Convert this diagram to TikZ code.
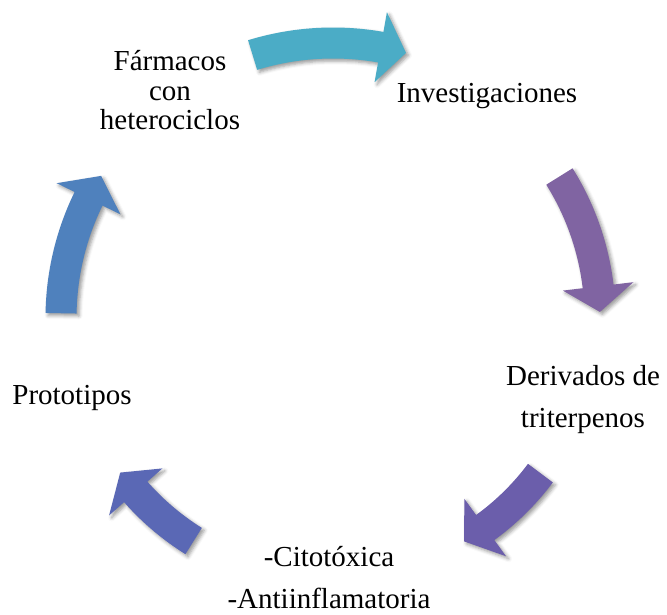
\documentclass[tikz,border=0pt]{standalone}
\usepackage{fontspec}
\setmainfont{Liberation Serif}
\usetikzlibrary{shadows.blur}
\definecolor{arrA}{RGB}{75,172,198}
\definecolor{arrB}{RGB}{128,100,162}
\definecolor{arrC}{RGB}{107,94,171}
\definecolor{arrD}{RGB}{90,104,181}
\definecolor{arrE}{RGB}{79,129,189}
\tikzset{
  lbl/.style={inner sep=0pt, align=center, anchor=base, text=black},
  tight/.style={font=\fontsize{29}{29.5}\selectfont},
  loose/.style={font=\fontsize{29}{42}\selectfont},
  blockarrow/.style={draw=none, blur shadow={shadow xshift=2.5pt, shadow yshift=-2.5pt, shadow blur radius=3.5pt, shadow opacity=40}}
}
% #1 colour, #2 radius, #3 tail angle, #4 head base angle, #5 tip angle
\newcommand{\cycarrow}[5]{%
  \begin{scope}[shift={(C)}]
    \fill[blockarrow, fill=#1]
      plot[domain=#3:#4, samples=40] (\x:{#2+15.5})
      -- ({#4}:{#2+35.5}) -- ({#5}:{#2}) -- ({#4}:{#2-35.5})
      -- plot[domain=#4:#3, samples=40] (\x:{#2-15.5}) -- cycle;
  \end{scope}}
\begin{document}
\begin{tikzpicture}[x=1pt, y=1pt]
  \useasboundingbox (0,0) rectangle (667,614);
  \coordinate (C) at (333,296);
  % arrows
  \cycarrow{arrA}{275}{107}{80}{74.6}
  \cycarrow{arrB}{267}{32}{6.8}{1.3}
  \cycarrow{arrC}{259}{-36.8}{-54}{-59.6}
  \cycarrow{arrD}{263}{-122}{-138.6}{-144}
  \cycarrow{arrE}{272}{179}{154}{148.5}
  % labels (base anchor = baseline of the last line)
  \node[lbl, tight] (farm) at (170,484) {Fármacos\\con\\heterociclos};
  \node[lbl, tight] (inv) at (487,511) {Investigaciones};
  \node[lbl, loose] (der) at (583,187) {Derivados de\\triterpenos};
  \node[lbl, loose] (cit) at (329,6) {-Citotóxica\\-Antiinflamatoria};
  \node[lbl, tight] (proto) at (72,209) {Prototipos};
\end{tikzpicture}
\end{document}
